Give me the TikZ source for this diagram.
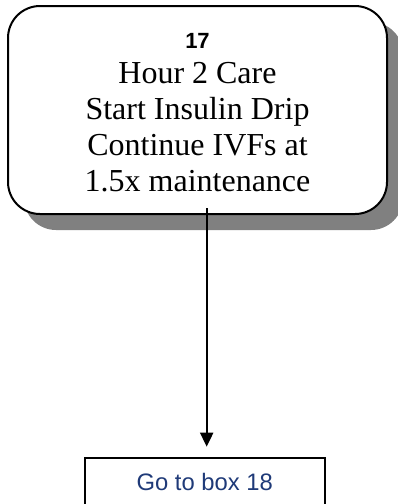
\documentclass[tikz,border=0pt]{standalone}
\usepackage{fontspec}
\setmainfont{Liberation Serif}
\setsansfont{Liberation Sans}
\usepackage{xcolor}
\usepackage{tikz}
\usetikzlibrary{arrows.meta,shadows}
\definecolor{linkblue}{HTML}{1F3A78}
\definecolor{shade}{HTML}{808080}

\tikzset{
  stepcard/.style={draw,line width=2pt,rounded corners=32pt,fill=white,
    minimum width=379pt,minimum height=208pt,inner sep=0pt,
    drop shadow={shadow xshift=16pt,shadow yshift=-16pt,fill=shade,opacity=1}},
  linkbox/.style={draw,line width=2pt,minimum width=240pt,inner ysep=16pt,
    text height=17pt,text depth=40pt,text=linkblue,
    font=\sffamily\fontsize{23.8}{28}\selectfont}
}

\begin{document}
\begin{tikzpicture}[x=1pt,y=1pt]
\useasboundingbox (0,0) rectangle (397,-504);
% step 17 card
\node (care) [stepcard] at (197.5,-110) {};
\node (caretext) at ([yshift=-2.7pt]care.center) [align=center,font=\fontsize{32}{36}\selectfont]
  {{\sffamily\bfseries\fontsize{22}{26}\selectfont 17}\\[-1pt]Hour 2 Care\\Start Insulin Drip\\Continue IVFs at\\1.5x maintenance};
% link to the next step
\node (next) [linkbox,anchor=north] at (204.7,-456.7) {Go to box 18};
\coordinate (tail) at ([xshift=9.2pt,yshift=7pt]care.south);
\draw[-{Triangle[width=13pt,length=14pt]},line width=2pt,shorten >=10pt] (tail) -- (tail |- next.north);
\end{tikzpicture}
\end{document}
